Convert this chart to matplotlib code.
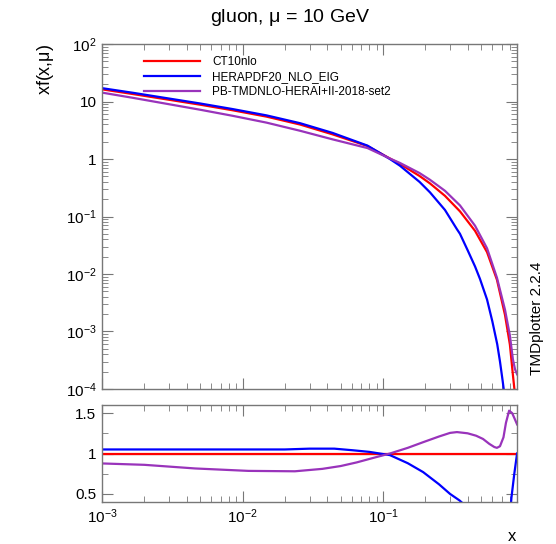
import numpy as np
import matplotlib
matplotlib.use('Agg')
import matplotlib.pyplot as plt
from matplotlib.ticker import LogLocator, MultipleLocator, NullFormatter, FixedLocator

plt.rcParams['font.family'] = ['Liberation Sans', 'DejaVu Sans']
plt.rcParams['mathtext.fontset'] = 'custom'
plt.rcParams['mathtext.rm'] = 'Liberation Sans'
plt.rcParams['mathtext.it'] = 'Liberation Sans'

# xf(x, mu)
x_ct10 = [0.001, 0.00166, 0.005, 0.0085, 0.0148, 0.0257, 0.0437, 0.0776, 0.112, 0.132,
          0.182, 0.216, 0.276, 0.353, 0.452, 0.55, 0.647, 0.738, 0.80, 0.84, 0.87]
y_ct10 = [16.3, 13.5, 8.81, 7.05, 5.47, 3.98, 2.69, 1.68, 1.02, 0.822,
          0.507, 0.376, 0.229, 0.123, 0.0562, 0.024, 0.00794, 0.00195, 5.9e-4, 1.78e-4, 7.9e-5]

x_hera = [0.001, 0.00166, 0.005, 0.0085, 0.0148, 0.0257, 0.0437, 0.0776, 0.112, 0.132,
          0.182, 0.216, 0.276, 0.336, 0.353, 0.40, 0.452, 0.49, 0.55, 0.60,
          0.65, 0.68, 0.71, 0.75]
y_hera = [17.1, 14.2, 9.25, 7.4, 5.75, 4.2, 2.85, 1.71, 1.0, 0.765,
          0.40, 0.263, 0.13, 0.06, 0.050, 0.026, 0.0135, 0.0082, 0.0036, 0.0015,
          6e-4, 3e-4, 1.4e-4, 5e-5]

x_pb = [0.001, 0.00166, 0.005, 0.0085, 0.0148, 0.0257, 0.0437, 0.0776, 0.112, 0.132,
        0.182, 0.216, 0.276, 0.353, 0.452, 0.55, 0.647, 0.738, 0.80, 0.84,
        0.87, 0.9]
y_pb = [14.3, 11.6, 7.2, 5.65, 4.3, 3.1, 2.2, 1.55, 1.02, 0.855,
        0.57, 0.435, 0.28, 0.156, 0.069, 0.028, 0.0086, 0.0024, 8.5e-4, 3.3e-4,
        2.2e-4, 1.8e-4]

# ratios to CT10nlo, lower panel
rx_ct10 = [0.001, 0.9]
r_ct10 = [1.0, 1.0]

rx_hera = [0.001, 0.01, 0.02, 0.03, 0.045, 0.061, 0.08, 0.112, 0.15, 0.193,
           0.25, 0.3, 0.35, 0.4, 0.5, 0.7, 0.8, 0.82, 0.86, 0.9]
r_hera = [1.05, 1.05, 1.05, 1.06, 1.06, 1.04, 1.02, 0.98, 0.88, 0.77,
          0.62, 0.5, 0.42, 0.33, 0.15, 0.0, 0.2, 0.45, 0.75, 1.0]

rx_pb = [0.001, 0.002, 0.0046, 0.011, 0.0236, 0.037, 0.05, 0.065, 0.085, 0.112,
         0.15, 0.193, 0.25, 0.3, 0.336, 0.4, 0.46, 0.515, 0.57, 0.62,
         0.647, 0.68, 0.72, 0.75, 0.79, 0.83, 0.87, 0.9]
r_pb = [0.877, 0.86, 0.815, 0.785, 0.78, 0.81, 0.845, 0.89, 0.945, 1.0,
        1.07, 1.14, 1.21, 1.255, 1.265, 1.25, 1.22, 1.18, 1.12, 1.08,
        1.07, 1.09, 1.2, 1.38, 1.53, 1.5, 1.42, 1.36]

labels = ['CT10nlo', 'HERAPDF20_NLO_EIG', 'PB-TMDNLO-HERAI+II-2018-set2']
colors = ['#ff0000', '#0000ff', '#9933bb']

fig = plt.figure(figsize=(5.56, 5.44), dpi=100)
ax = fig.add_axes([0.1835, 0.285, 0.7465, 0.634])
axr = fig.add_axes([0.1835, 0.0772, 0.7465, 0.1783])

ax.plot(x_ct10, y_ct10, color=colors[0], lw=1.6, label=labels[0])
ax.plot(x_hera, y_hera, color=colors[1], lw=1.6, label=labels[1])
ax.plot(x_pb, y_pb, color=colors[2], lw=1.6, label=labels[2])

axr.axhline(1.0, color='black', lw=0.8)
axr.plot(rx_ct10, r_ct10, color=colors[0], lw=1.6)
axr.plot(rx_hera, r_hera, color=colors[1], lw=1.6)
axr.plot(rx_pb, r_pb, color=colors[2], lw=1.6)

xmin, xmax = 1e-3, 0.9
for a in (ax, axr):
    a.set_xscale('log')
    a.set_xlim(xmin, xmax)
    a.xaxis.set_major_locator(LogLocator(base=10, numticks=10))
    a.xaxis.set_minor_locator(LogLocator(base=10, subs=np.arange(2, 10), numticks=20))
    a.tick_params(which='both', direction='in', top=True, right=True, color='#777777',
                  labelsize=11, pad=4)
    a.tick_params(which='major', length=8)
    a.tick_params(which='minor', length=4)
    for s in a.spines.values():
        s.set_color('#777777')
        s.set_linewidth(1.0)

ax.set_yscale('log')
ax.set_ylim(1e-4, 100)
ax.yaxis.set_major_locator(LogLocator(base=10, numticks=10))
ax.yaxis.set_minor_locator(LogLocator(base=10, subs=np.arange(2, 10), numticks=20))
ax.yaxis.set_minor_formatter(NullFormatter())
ax.set_yticks([1e-4, 1e-3, 1e-2, 1e-1, 1, 10, 100])
ax.set_yticklabels(['$10^{-4}$', '$10^{-3}$', '$10^{-2}$', '$10^{-1}$', '1', '10', '$10^{2}$'])
ax.xaxis.set_major_formatter(NullFormatter())
ax.xaxis.set_minor_formatter(NullFormatter())

axr.set_ylim(0.4, 1.6)
axr.yaxis.set_major_locator(FixedLocator([0.5, 1.0, 1.5]))
axr.yaxis.set_minor_locator(MultipleLocator(0.25))
axr.set_yticklabels(['0.5', '1', '1.5'])
axr.set_xticks([1e-3, 1e-2, 1e-1])
axr.set_xticklabels(['$10^{-3}$', '$10^{-2}$', '$10^{-1}$'])
axr.xaxis.set_minor_formatter(NullFormatter())

ax.legend(loc='upper left', bbox_to_anchor=(0.075, 0.995), frameon=False, fontsize=8.5,
          handlelength=4.8, handletextpad=1.0, labelspacing=0.25)

fig.text(0.522, 0.967, 'gluon, $\\mu$ = 10 GeV', ha='center', va='center', fontsize=14)
fig.text(0.082, 0.92, 'xf(x,$\\mu$)', rotation=90, ha='center', va='top', fontsize=13)
fig.text(0.965, 0.415, 'TMDplotter 2.2.4', rotation=90, ha='center', va='center', fontsize=11)
fig.text(0.921, 0.013, 'x', ha='center', va='center', fontsize=12)

fig.savefig('out.png', dpi=100)
